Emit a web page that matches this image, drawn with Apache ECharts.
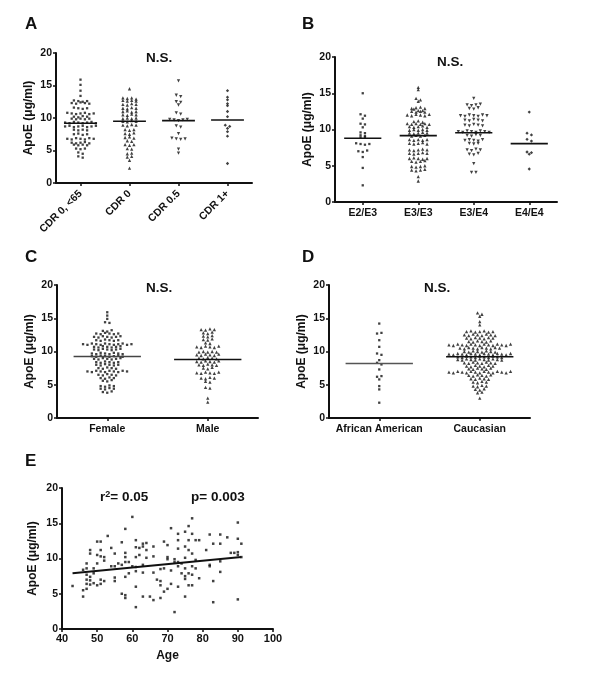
<!DOCTYPE html>
<html>
<head>
<meta charset="utf-8">
<script src="https://cdn.jsdelivr.net/npm/echarts@6/dist/echarts.min.js"></script>
<style>
  html, body { margin: 0; padding: 0; background: #fff; }
  #chart { width: 600px; height: 685px; }
</style>
</head>
<body>
<div id="chart"></div>
<script>
// ---- data ----
const cdrGroups = ['CDR 0, <65', 'CDR 0', 'CDR 0.5', 'CDR 1+'];
const cdr0Young = [15.9, 15.1, 14.2, 13.4,
  12.7, 12.6, 12.5, 12.6, 12.3, 12.2, 12.4, 12.3, 12.2,
  11.6, 11.5, 11.4, 11.5, 10.8, 10.7, 10.6, 10.7, 10.8, 10.6, 10.7,
  10.2, 10.1, 10.3, 10.2, 9.9, 9.8, 9.9, 9.8, 9.9,
  9.3, 9.2, 9.4, 9.3, 9.2, 9.3, 9.4, 9.2, 8.7, 8.8, 8.6, 8.7, 8.8, 8.6, 8.7, 8.8,
  8.2, 8.1, 8.2, 8.1, 7.5, 7.6, 7.4, 7.5,
  6.8, 6.7, 6.9, 6.8, 6.7, 6.9, 6.8, 6.2, 6.1, 6.2, 6.3, 6.1,
  5.9, 5.8, 5.9, 5.8, 5.3, 5.2, 5.3, 4.7, 4.5, 4.1, 3.9];
const cdr0 = [14.5, 13.1, 13.0, 13.1, 12.9, 12.7, 12.6, 12.7, 12.6, 12.1, 12.0, 12.2, 12.1,
  11.5, 11.4, 11.6, 11.5, 11.0, 11.1, 10.9, 11.0, 10.5, 10.4, 10.6, 10.5, 9.9, 10.0, 9.9, 10.0,
  9.5, 9.4, 9.6, 9.5, 8.9, 8.8, 9.0, 8.9, 8.2, 8.1, 8.2, 7.6, 7.5, 7.7, 7.0, 7.1, 6.9,
  6.5, 6.4, 5.9, 5.8, 5.9, 5.3, 5.2, 4.5, 4.6, 4.0, 4.1, 3.5, 2.3];
const cdr05 = [15.7, 13.5, 13.3, 12.5, 12.4, 12.0, 10.8, 10.6, 9.8, 9.7, 9.6, 9.7, 9.8,
  8.8, 8.6, 7.6, 6.9, 6.8, 6.7, 6.8, 5.2, 4.6];
const cdr1plus = [14.2, 13.2, 12.8, 12.2, 11.9, 11.0, 10.2, 8.9, 8.4, 8.7, 7.9, 7.2, 3.0];
const cdrMeans = [9.2, 9.5, 9.6, 9.7];

const genotypes = ['E2/E3', 'E3/E3', 'E3/E4', 'E4/E4'];
const e2e3 = [15.0, 12.1, 11.9, 11.5, 10.8, 10.7, 10.3, 9.6, 9.5, 9.2, 9.1, 8.9, 8.9,
  8.1, 8.0, 7.9, 8.0, 7.0, 6.9, 7.1, 6.2, 4.7, 2.3];
const e3e3 = [15.8, 15.5, 14.3, 14.1, 13.9, 12.9, 13.0, 12.8, 13.1, 12.9,
  12.5, 12.4, 12.6, 12.5, 12.4, 12.6, 12.0, 11.9, 12.1, 12.0, 11.9, 12.1,
  11.1, 11.2, 11.0, 10.8, 10.7, 10.8, 10.7, 10.8, 10.7, 10.4, 10.3, 10.4, 10.5, 10.3,
  9.9, 10.0, 9.9, 10.0, 9.9, 9.5, 9.4, 9.5, 9.6, 9.5, 9.1, 9.2, 9.1, 9.2,
  8.6, 8.5, 8.6, 8.5, 8.6, 8.1, 8.0, 8.1, 8.2, 8.0, 7.2, 7.1, 7.2, 7.3, 7.2,
  6.7, 6.6, 6.7, 6.8, 6.7, 6.0, 6.1, 6.0, 5.9, 6.0, 5.6, 5.5, 5.6, 5.7,
  4.9, 4.8, 4.9, 5.0, 4.4, 4.3, 4.4, 4.5, 3.5, 2.9];
const e3e4 = [14.3, 13.4, 13.3, 13.4, 13.5, 12.9, 12.8, 13.0, 11.9, 11.8, 12.0, 11.9, 11.8, 12.0, 11.9,
  11.3, 11.2, 11.4, 11.3, 11.2, 10.6, 10.5, 10.7, 10.6, 10.5,
  9.7, 9.6, 9.8, 9.7, 9.6, 9.8, 9.7, 9.6, 9.2, 9.1, 9.3, 9.2,
  8.5, 8.6, 8.5, 8.4, 8.6, 8.1, 8.0, 8.1, 7.2, 7.1, 7.3, 7.2, 6.6, 6.5, 6.7, 5.3, 4.1, 4.1];
const e4e4 = [12.4, 9.5, 9.25, 8.65, 8.4, 6.9, 6.8, 6.6, 4.55];
const genotypeMeans = [8.8, 9.15, 9.55, 8.05];

const sexes = ['Female', 'Male'];
const female = [15.9, 15.4, 14.9, 14.4, 14.3, 13.1, 13.0, 13.2,
  12.7, 12.6, 12.8, 12.7, 12.6, 12.7, 12.2, 12.1, 12.3, 12.2, 12.1, 12.2, 12.3,
  11.7, 11.6, 11.8, 11.7, 11.6, 11.7,
  11.1, 11.0, 11.2, 11.1, 11.0, 11.2, 11.1, 11.0, 11.1, 11.2, 11.0, 11.1,
  10.7, 10.6, 10.8, 10.7, 10.6, 10.7, 10.8, 10.3, 10.2, 10.4, 10.3, 10.2, 10.3, 10.4,
  9.7, 9.6, 9.8, 9.7, 9.6, 9.8, 9.7, 9.6, 9.3, 9.2, 9.4, 9.3, 9.2, 9.3, 9.4, 9.2,
  8.9, 8.8, 9.0, 8.9, 8.8, 8.9, 9.0, 8.4, 8.3, 8.5, 8.4, 8.3, 8.4, 8.0, 7.9, 8.1, 8.0, 7.9, 8.0,
  7.5, 7.4, 7.6, 7.5, 7.4, 7.0, 6.9, 7.1, 7.0, 6.9, 7.1, 7.0, 6.9, 7.1, 7.0,
  6.5, 6.4, 6.6, 6.5, 6.4, 6.0, 5.9, 6.1, 6.0, 5.6, 5.5, 5.7,
  4.8, 4.7, 4.9, 4.8, 4.4, 4.3, 4.5, 4.4, 3.9, 3.8, 4.0];
const male = [13.3, 13.2, 13.4, 13.3, 12.8, 12.7, 12.9, 12.3, 12.2, 12.4, 11.8, 11.7, 11.9,
  11.3, 11.2, 10.7, 10.6, 10.8, 10.7, 10.6, 10.8, 9.9, 10.0, 9.9, 10.0, 9.9,
  9.5, 9.4, 9.6, 9.5, 9.4, 9.6, 9.0, 8.9, 9.1, 9.0, 8.9, 8.5, 8.4, 8.6, 8.5, 8.4, 8.6,
  8.0, 7.9, 8.1, 8.0, 7.9, 7.5, 7.4, 7.6, 6.8, 6.7, 6.9, 6.8, 6.7, 6.9,
  6.0, 5.9, 6.1, 6.0, 5.5, 5.4, 4.6, 4.5, 3.0, 2.4];
const sexMeans = [9.25, 8.8];

const races = ['African American', 'Caucasian'];
const africanAmerican = [14.2, 12.7, 12.8, 11.7, 10.7, 9.7, 9.5, 8.7, 8.3, 8.05, 7.3,
  6.2, 6.3, 5.8, 4.8, 4.3, 2.3];
const caucasian = [15.8, 15.6, 15.3, 14.5, 14.0,
  13.0, 13.1, 12.9, 13.0, 13.1, 12.9, 13.0,
  12.5, 12.4, 12.6, 12.5, 12.4, 12.6, 12.5, 12.4, 12.0, 11.9, 12.1, 12.0, 11.9, 12.1, 12.0,
  11.5, 11.4, 11.6, 11.5, 11.4, 11.6,
  11.0, 10.9, 11.1, 11.0, 10.9, 11.1, 11.0, 10.9, 11.1, 11.0, 10.9, 11.1, 11.0, 10.9, 11.1,
  10.5, 10.4, 10.6, 10.5, 10.4, 10.6, 10.5, 10.4, 10.6, 10.5, 10.0, 9.9, 10.1, 10.0, 9.9, 10.1, 10.0, 9.9,
  9.6, 9.5, 9.7, 9.6, 9.5, 9.7, 9.6, 9.5, 9.7, 9.6, 9.5, 9.7, 9.6, 9.5, 9.7,
  9.2, 9.1, 9.3, 9.2, 9.1, 9.3, 9.2, 9.1, 9.3, 9.2, 9.1,
  8.8, 8.7, 8.9, 8.8, 8.7, 8.9, 8.8, 8.7, 8.9, 8.8, 8.7,
  8.3, 8.2, 8.4, 8.3, 8.2, 8.4, 8.3, 8.2, 7.8, 7.7, 7.9, 7.8, 7.7, 7.9, 7.8,
  7.4, 7.3, 7.5, 7.4, 7.3, 7.5,
  6.9, 6.8, 7.0, 6.9, 6.8, 7.0, 6.9, 6.8, 7.0, 6.9, 6.8, 7.0, 6.9, 6.8, 7.0,
  6.4, 6.3, 6.5, 6.4, 6.3, 6.5, 5.9, 5.8, 6.0, 5.9, 5.8, 5.4, 5.3, 5.5, 5.4,
  4.8, 4.7, 4.9, 4.8, 4.3, 4.2, 4.4, 3.8, 3.9, 3.0];
const raceMeans = [8.2, 9.2];

const ageYears = [43, 46, 46, 46, 47, 47, 47, 47, 47, 47, 48, 48, 48, 48, 48, 49, 49, 49, 50, 50, 50, 50,
  51, 51, 51, 51, 51, 52, 52, 52, 53, 54, 54, 55, 55, 55, 55, 56, 57, 57, 57,
  58, 58, 58, 58, 58, 58, 58, 59, 59, 60, 60, 61, 61, 61, 61, 61, 61, 61,
  62, 62, 63, 63, 63, 63, 63, 64, 64, 64, 65, 66, 66, 66, 66, 67, 68, 68, 68, 68,
  69, 69, 69, 70, 70, 70, 70, 71, 71, 71, 72, 72, 72, 73, 73, 73, 73, 73, 73, 74, 74,
  75, 75, 75, 75, 75, 75, 75, 76, 76, 76, 76, 76, 77, 77, 77, 77, 77, 77, 78, 78, 78, 79, 79,
  81, 82, 82, 82, 83, 83, 83, 85, 85, 85, 85, 87, 88, 89, 90, 90, 90, 90, 90, 91, 91];
const ageApoE = [6.1, 8.4, 5.5, 4.6, 9.3, 8.6, 7.7, 7.0, 6.4, 5.7, 11.2, 10.7, 7.4, 6.9, 6.3, 8.6, 7.9, 6.5, 10.5, 9.3, 6.2, 12.4,
  12.4, 11.2, 10.3, 7.0, 6.4, 10.2, 9.7, 6.8, 13.2, 11.5, 8.9, 10.7, 8.9, 7.3, 6.8, 9.3, 12.3, 9.1, 5.0,
  14.2, 10.8, 10.2, 9.5, 7.4, 4.8, 4.4, 9.5, 7.9, 15.9, 8.9, 12.6, 11.6, 10.2, 8.8, 8.2, 6.0, 3.1,
  11.5, 10.5, 12.1, 11.7, 9.1, 8.0, 4.6, 12.2, 11.2, 10.1, 4.6, 11.7, 10.3, 8.0, 4.1, 7.0, 8.5, 6.8, 6.2, 4.4,
  12.4, 8.6, 5.3, 11.9, 10.2, 9.9, 5.7, 14.3, 8.3, 6.4, 9.9, 9.5, 2.4, 13.5, 12.6, 11.4, 9.5, 8.9, 6.0, 9.3, 7.9,
  13.8, 11.7, 10.1, 8.6, 7.5, 7.1, 4.6, 14.6, 12.6, 11.2, 7.9, 6.2, 15.7, 13.5, 10.7, 8.9, 7.7, 6.2, 12.6, 9.8, 8.6, 7.2, 12.6,
  11.2, 13.4, 9.1, 8.9, 12.1, 6.8, 3.8, 13.4, 12.1, 9.6, 8.1, 13.0, 10.8, 10.8, 15.1, 12.8, 10.9, 10.5, 4.2, 12.1, 10.2];
const fitAge = [43, 91];
const fitApoE = [7.9, 10.2];

// ---- layout helpers ----
const FONT = 'Liberation Sans';
const INK = '#111';

// Prism-style column scatter: values that sit close together share a row
// and are spread sideways around the column centre
function swarm(values, tol, gap) {
  const order = values.map((v, i) => i).sort((a, b) => values[b] - values[a]);
  const rows = [];
  let cur = null;
  order.forEach(i => {
    if (!cur || cur.top - values[i] > tol) { cur = { top: values[i], idx: [] }; rows.push(cur); }
    cur.idx.push(i);
  });
  const off = new Array(values.length);
  rows.forEach(r => {
    r.idx.sort((a, b) => a - b);
    r.idx.forEach((i, j) => { off[i] = (j - (r.idx.length - 1) / 2) * gap; });
  });
  return off;
}

const SQUARE = { symbol: 'rect', symbolSize: 2.3, symbolRotate: 0 };
const UP = { symbol: 'triangle', symbolSize: 3.3, symbolRotate: 0 };
const DOWN = { symbol: 'triangle', symbolSize: 3.3, symbolRotate: 180 };
const DOT = { symbol: 'diamond', symbolSize: 3.3, symbolRotate: 0 };

const panels = [
  { grid: { left: 56, top: 53, width: 196, height: 130 }, cats: cdrGroups, rotate: 45,
    groups: [cdr0Young, cdr0, cdr05, cdr1plus], marks: [SQUARE, UP, DOWN, DOT], means: cdrMeans },
  { grid: { left: 335, top: 57, width: 222, height: 145 }, cats: genotypes, rotate: 0,
    groups: [e2e3, e3e3, e3e4, e4e4], marks: [SQUARE, UP, DOWN, DOT], means: genotypeMeans },
  { grid: { left: 57, top: 285, width: 201, height: 133 }, cats: sexes, rotate: 0,
    groups: [female, male], marks: [SQUARE, UP], means: sexMeans, meanColor: ['#444', INK] },
  { grid: { left: 329, top: 285, width: 201, height: 133 }, cats: races, rotate: 0,
    groups: [africanAmerican, caucasian], marks: [SQUARE, UP], means: raceMeans, meanColor: ['#555', INK] }
];

function yAxisFor(gridIndex, gap) {
  return {
    type: 'value', gridIndex: gridIndex, min: 0, max: 20, interval: 5,
    name: 'ApoE (μg/ml)', nameLocation: 'middle', nameGap: gap,
    nameTextStyle: { fontFamily: FONT, fontWeight: 'bold', fontSize: 12, color: INK },
    axisLine: { show: true, lineStyle: { color: INK, width: 2 } },
    axisTick: { show: true, length: 3, lineStyle: { color: INK, width: 1.5 } },
    axisLabel: { fontFamily: FONT, fontWeight: 'bold', fontSize: 10.5, color: INK, margin: 4 },
    splitLine: { show: false }
  };
}

const grids = [], xAxes = [], yAxes = [], series = [];

panels.forEach((p, gi) => {
  grids.push(p.grid);
  xAxes.push({
    type: 'category', gridIndex: gi, data: p.cats,
    axisLine: { lineStyle: { color: INK, width: 2 } },
    axisTick: { show: true, alignWithLabel: true, length: 3, lineStyle: { color: INK, width: 1.5 } },
    axisLabel: { fontFamily: FONT, fontWeight: 'bold', fontSize: 10.5, color: INK,
      rotate: p.rotate, margin: p.rotate ? 9 : 6, interval: 0 }
  });
  yAxes.push(yAxisFor(gi, 21));
  p.groups.forEach((vals, ci) => {
    const off = swarm(vals, 0.25, 4.4);
    const m = p.marks[ci];
    series.push({
      type: 'scatter', xAxisIndex: gi, yAxisIndex: gi,
      symbol: m.symbol, symbolSize: m.symbolSize, symbolRotate: m.symbolRotate,
      itemStyle: { color: INK },
      data: vals.map((v, i) => ({ value: [ci, v], symbolOffset: [off[i], 0] })),
      silent: true, z: 3
    });
  });
  series.push({
    type: 'custom', xAxisIndex: gi, yAxisIndex: gi, z: 4, silent: true,
    data: p.means.map((m, i) => [i, m]),
    renderItem: function (params, api) {
      const c = api.coord([api.value(0), api.value(1)]);
      const w = api.size([1, 0])[0] * 0.67;
      const col = p.meanColor ? p.meanColor[params.dataIndex] : INK;
      return { type: 'line', shape: { x1: c[0] - w / 2, y1: c[1], x2: c[0] + w / 2, y2: c[1] },
        style: { stroke: col, lineWidth: 1.6 } };
    }
  });
});

// panel E: age scatter with regression line
const ei = panels.length;
grids.push({ left: 62, top: 488, width: 211, height: 141 });
xAxes.push({
  type: 'value', gridIndex: ei, min: 40, max: 100, interval: 10,
  name: 'Age', nameLocation: 'middle', nameGap: 21,
  nameTextStyle: { fontFamily: FONT, fontWeight: 'bold', fontSize: 12, color: INK },
  axisLine: { show: true, onZero: false, lineStyle: { color: INK, width: 2 } },
  axisTick: { show: true, length: 3, lineStyle: { color: INK, width: 1.5 } },
  axisLabel: { fontFamily: FONT, fontWeight: 'bold', fontSize: 11, color: INK, margin: 4 },
  splitLine: { show: false }
});
yAxes.push(yAxisFor(ei, 23));
series.push({
  type: 'scatter', xAxisIndex: ei, yAxisIndex: ei, symbol: 'rect', symbolSize: 2.5,
  itemStyle: { color: INK }, silent: true,
  data: ageYears.map((a, i) => [a, ageApoE[i]])
});
series.push({
  type: 'line', xAxisIndex: ei, yAxisIndex: ei, symbol: 'none', silent: true,
  lineStyle: { color: INK, width: 2 },
  data: fitAge.map((a, i) => [a, fitApoE[i]])
});

// panel letters and annotations
const label = (text, left, top, size) => ({
  text: text, left: left, top: top, padding: 0,
  textStyle: { fontFamily: FONT, fontWeight: 'bold', fontSize: size, color: INK }
});
const titles = [
  label('A', 25, 16, 17), label('B', 302, 16, 17), label('C', 25, 249, 17),
  label('D', 302, 249, 17), label('E', 25, 453, 17),
  label('N.S.', 146, 51, 13.5), label('N.S.', 437, 55, 13.5),
  label('N.S.', 146, 281, 13.5), label('N.S.', 424, 281, 13.5),
  { text: 'r{sup|2}= 0.05', left: 100, top: 490, padding: 0,
    textStyle: { fontFamily: FONT, fontWeight: 'bold', fontSize: 13.5, color: INK,
      rich: { sup: { fontFamily: FONT, fontWeight: 'bold', fontSize: 9, color: INK, verticalAlign: 'top', padding: [0, 0, 6, 0] } } } },
  label('p= 0.003', 191, 490, 13.5)
];

const chart = echarts.init(document.getElementById('chart'));
chart.setOption({
  animation: false,
  backgroundColor: '#fff',
  title: titles,
  grid: grids,
  xAxis: xAxes,
  yAxis: yAxes,
  series: series
});
</script>
</body>
</html>
